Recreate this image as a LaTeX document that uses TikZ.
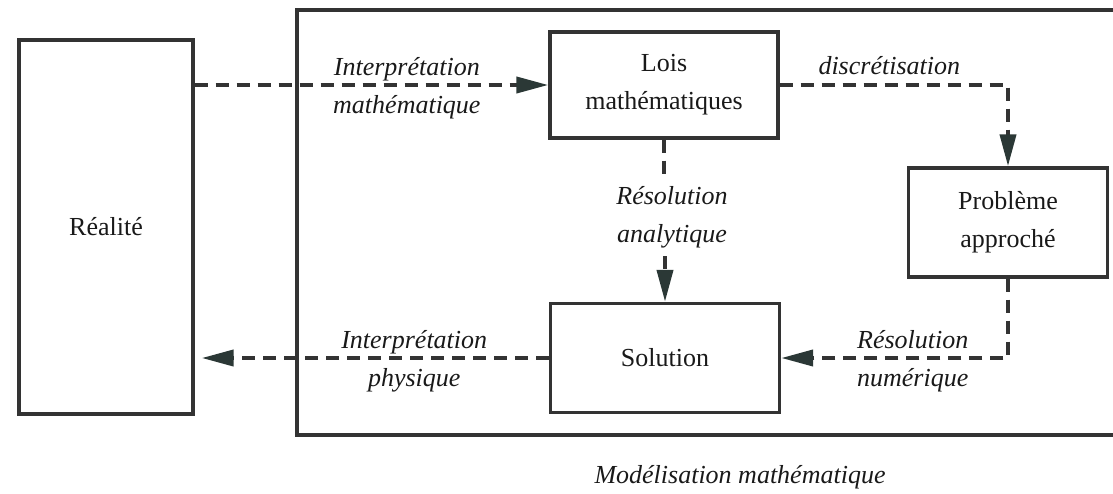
\documentclass[tikz,border=0pt]{standalone}
\usepackage{fontspec}
\setmainfont{Liberation Serif}
\usetikzlibrary{arrows.meta}
\definecolor{trait}{HTML}{333333}
\definecolor{pointe}{HTML}{2B3836}
\begin{document}
\begin{tikzpicture}[x=0.5pt,y=-0.5pt,
    boite/.style={draw=trait,line width=1.7pt,rectangle,inner sep=0pt,align=center,
        text=black!90,font=\fontsize{13}{19}\selectfont},
    etiq/.style={align=center,inner sep=1pt,text=black!90,
        font=\fontsize{13}{19}\selectfont\itshape}]
    \tikzstyle{tiret}=[draw=trait,line width=2pt,dash pattern=on 6.5pt off 4pt]
    \tikzstyle{fleche}=[tiret,-{Triangle[length=16pt,width=8pt,color=pointe]}]

    \useasboundingbox (0,0) rectangle (1113,493);

    \node[boite,minimum width=414pt,minimum height=212.5pt] (modele) at (711,222.5) {};
    \node[boite,minimum width=87pt,minimum height=187pt] (realite) at (106,227) {Réalité};
    \node[boite,minimum width=114pt,minimum height=53pt] (lois) at (664,85) {Lois\\mathématiques};
    \node[boite,minimum width=99.5pt,minimum height=54.5pt] (probleme) at (1008,222.5) {Problème\\approché};
    \node[boite,minimum width=114.5pt,minimum height=54.5pt] (solution) at (665,358) {Solution};
    \node[etiq,inner sep=4pt] (resana) at (672,217) {Résolution\\analytique};

    \draw[fleche] (realite.east |- lois.west) -- (lois.west)
        node[etiq,pos=0.6,yshift=-1.5pt] (interpmath) {Interprétation\\mathématique};
    \draw[fleche] (lois.east) -| (probleme.north)
        node[etiq,pos=0.24,anchor=south,yshift=3pt] (discret) {discrétisation};
    \draw[tiret] (lois.south) -- (lois.south |- resana.north);
    \draw[fleche] (resana.south -| solution.north) -- (solution.north);
    \draw[fleche] (probleme.south) |- (solution.east)
        node[etiq,pos=0.71,yshift=-1.5pt] (resnum) {Résolution\\numérique};
    \draw[fleche,shorten >=3.5pt] (solution.west) -- (solution.west -| realite.east)
        node[etiq,pos=0.38,yshift=-1.5pt] (interpphys) {Interprétation\\physique};

    \node[etiq] (legende) at (740,477) {Modélisation mathématique};

\end{tikzpicture}
\end{document}
